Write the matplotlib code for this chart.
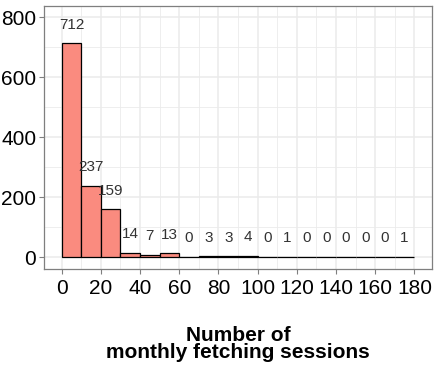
import numpy as np
import matplotlib
matplotlib.use("Agg")
import matplotlib.pyplot as plt

plt.rcParams['font.family'] = ['Liberation Sans', 'DejaVu Sans']

# histogram bins (width 10) and counts
bin_left = [0, 10, 20, 30, 40, 50, 60, 70, 80, 90, 100, 110, 120, 130, 140, 150, 160, 170]
counts = [712, 237, 159, 14, 7, 13, 0, 3, 3, 4, 0, 1, 0, 0, 0, 0, 0, 1]
bin_width = 10
x_ticks = [0, 20, 40, 60, 80, 100, 120, 140, 160, 180]
y_ticks = [0, 200, 400, 600, 800]

fig = plt.figure(figsize=(4.37, 3.69), dpi=100)
ax = fig.add_axes([0.1007, 0.271, 0.888, 0.713])

# ggplot theme_bw style grid
for v in np.arange(10, 190, 20):
    ax.axvline(v, color="#EBEBEB", lw=0.6, zorder=0)
for v in x_ticks:
    ax.axvline(v, color="#EBEBEB", lw=1.1, zorder=0)
for v in [100, 300, 500, 700]:
    ax.axhline(v, color="#EBEBEB", lw=0.6, zorder=0)
for v in y_ticks:
    ax.axhline(v, color="#EBEBEB", lw=1.1, zorder=0)

ax.bar(bin_left, counts, width=bin_width, align="edge",
       color="#FA8B7F", edgecolor="black", linewidth=0.9, zorder=2)

for xl, c in zip(bin_left, counts):
    ax.text(xl + bin_width / 2, c + 62, str(c), ha="center", va="center",
            fontsize=11, color="#333333", zorder=3)

ax.set_xlim(-9, 189)
ax.set_ylim(-40, 837)
ax.set_xticks(x_ticks)
ax.set_yticks(y_ticks)
ax.tick_params(axis="both", labelsize=15, colors="#7F7F7F", labelcolor="black",
               length=3.5, width=0.8)
ax.tick_params(axis="x", pad=4)
ax.tick_params(axis="y", pad=2)
for s in ax.spines.values():
    s.set_color("#7F7F7F")
    s.set_linewidth(0.9)

ax.set_xlabel("Number of\nmonthly fetching sessions", fontsize=15,
              fontweight="bold", labelpad=20, linespacing=0.85)

fig.savefig("out.png", dpi=100)
